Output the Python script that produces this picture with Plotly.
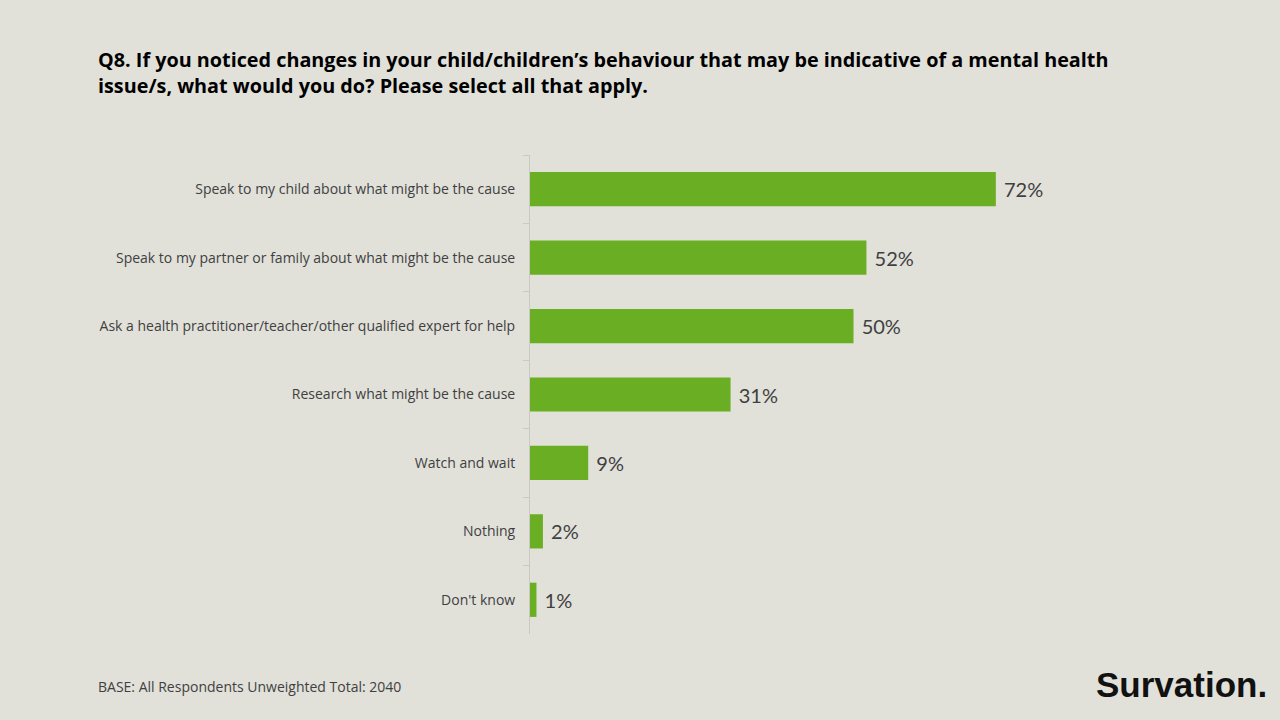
import plotly.graph_objects as go

categories = [
    "Speak to my child about what might be the cause",
    "Speak to my partner or family about what might be the cause",
    "Ask a health practitioner/teacher/other qualified expert for help",
    "Research what might be the cause",
    "Watch and wait",
    "Nothing",
    "Don't know",
]
values = [72, 52, 50, 31, 9, 2, 1]
value_labels = ["72%", "52%", "50%", "31%", "9%", "2%", "1%"]

title_text = ("Q8. If you noticed changes in your child/children\u2019s behaviour that may be indicative of a mental health"
              "<br>issue/s, what would you do? Please select all that apply.")
base_text = "BASE: All Respondents Unweighted Total: 2040"
logo_text = "Survation."

BG = "#E1E1DA"
BAR = "#6AAF23"
TXT = "#404040"

fig = go.Figure(go.Bar(
    y=categories, x=values, orientation="h",
    marker=dict(color=BAR, line=dict(width=0)),
    text=[" " + t for t in value_labels], textposition="outside",
    textfont=dict(size=20, color=TXT, family="Lato"),
    cliponaxis=False,
))

fig.update_layout(
    width=1280, height=720,
    paper_bgcolor=BG, plot_bgcolor=BG,
    margin=dict(l=530, r=103, t=155, b=86),
    bargap=0.5,
    showlegend=False,
    title=dict(text=title_text, x=98/1280, xanchor="left", xref="container",
               y=1-67/720, yanchor="top", yref="container",
               font=dict(family="Open Sans", size=19.8, color="#000000", weight="bold")),
    xaxis=dict(range=[0, 100], visible=False, fixedrange=True),
    yaxis=dict(autorange="reversed", showline=True, linecolor="#C9C9C3", linewidth=1,
               ticks="outside", tickson="boundaries", ticklen=6, tickcolor="#C9C9C3",
               tickfont=dict(family="Open Sans", size=14, color=TXT), ticklabelstandoff=11,
               showgrid=False, zeroline=False, fixedrange=True),
    annotations=[
        dict(text=base_text, xref="paper", yref="paper", x=(96-530)/647, y=(720-86-686)/479,
             xanchor="left", yanchor="middle", showarrow=False,
             font=dict(family="Open Sans", size=14, color=TXT)),
        dict(text="<b>"+logo_text+"</b>", xref="paper", yref="paper", x=(1269-530)/647, y=(634-684)/479,
             xanchor="right", yanchor="middle", showarrow=False,
             font=dict(family="Liberation Sans", size=35, color="#111111")),
    ],
)

fig.write_html("out.html", config={"displayModeBar": False},
               post_script="document.body.style.margin='0';document.body.style.background='#E1E1DA';")
